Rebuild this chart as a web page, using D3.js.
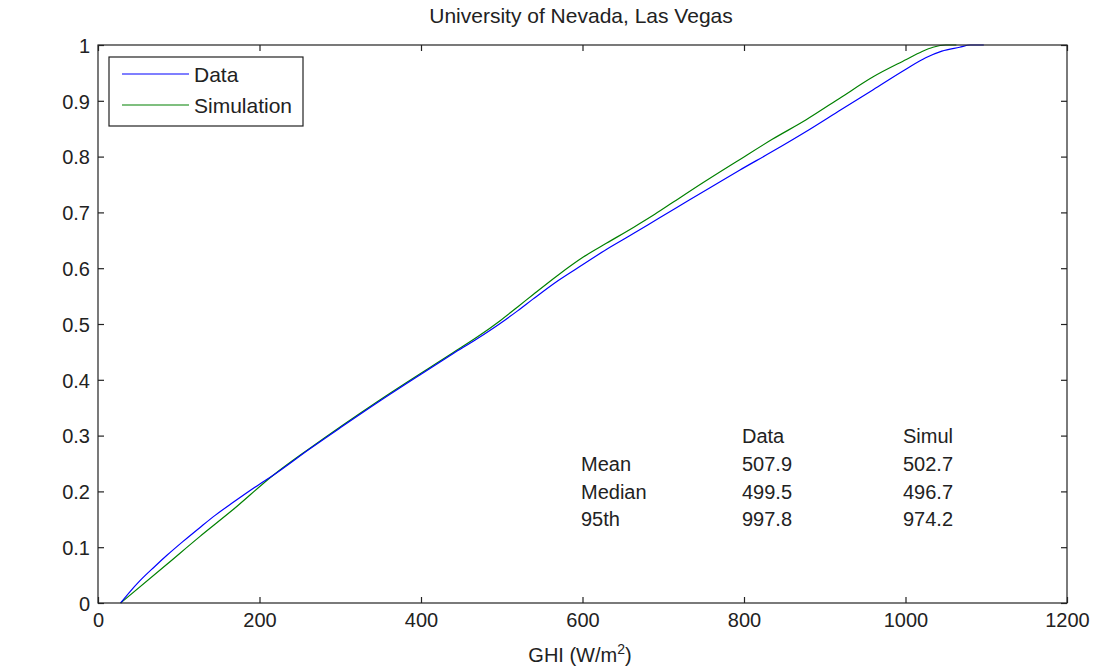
<!DOCTYPE html>
<html><head><meta charset="utf-8">
<script src="https://cdn.jsdelivr.net/npm/d3@7"></script>
<style>body{margin:0;background:#fff}svg{display:block}text{font-family:"Liberation Sans",Arial,sans-serif;fill:#222}</style>
</head><body><svg id="c" width="1093" height="671"></svg>
<script>
const title = "University of Nevada, Las Vegas";
const xTicks = [0,200,400,600,800,1000,1200];
const yTicks = [0,0.1,0.2,0.3,0.4,0.5,0.6,0.7,0.8,0.9,1];
const dataX = [28,40,52,70,85,105,126,145,167,200,217,262,300,349,400,440,470,498,520,539,570,601,630,663,695,724,760,795,835,877,920,960,1001,1025,1045,1067,1080,1097];
const dataY = [0,0.021,0.040,0.065,0.085,0.110,0.135,0.157,0.180,0.213,0.229,0.276,0.314,0.362,0.410,0.447,0.474,0.501,0.524,0.545,0.578,0.607,0.634,0.662,0.690,0.715,0.746,0.776,0.809,0.845,0.884,0.920,0.957,0.977,0.989,0.996,1,1];
const simX = [28,85,126,167,217,262,349,440,470,498,520,539,570,601,630,663,690,712,750,795,835,877,920,960,1001,1020,1034,1050,1063];
const simY = [0,0.069,0.119,0.167,0.229,0.277,0.364,0.449,0.477,0.506,0.531,0.553,0.588,0.620,0.645,0.673,0.697,0.718,0.754,0.795,0.831,0.866,0.906,0.943,0.974,0.988,0.996,1,1];
const seriesNames = ["Data","Simulation"];
const statRows = ["Mean","Median","95th"];
const statData = ["507.9","499.5","997.8"];
const statSim = ["502.7","496.7","974.2"];

const svg = d3.select("#c");
const L=98,R=1067,T=45,B=603;
const x = d3.scaleLinear().domain([0,1200]).range([L,R]);
const y = d3.scaleLinear().domain([0,1]).range([B,T]);
const fs = 20;

const g = svg.append("g");
const line = d3.line().x(d=>x(d[0])).y(d=>y(d[1])).curve(d3.curveMonotoneX);
g.append("path").datum(simX.map((v,i)=>[v,simY[i]])).attr("d",line).attr("fill","none").attr("stroke","#008000").attr("stroke-width",1.2);
g.append("path").datum(dataX.map((v,i)=>[v,dataY[i]])).attr("d",line).attr("fill","none").attr("stroke","#0000ff").attr("stroke-width",1.2);

svg.append("rect").attr("x",L).attr("y",T).attr("width",R-L).attr("height",B-T).attr("fill","none").attr("stroke","#222").attr("stroke-width",1.2);
const tl=6;
const axB = svg.append("g").attr("transform",`translate(0,${B})`).call(d3.axisBottom(x).tickValues(xTicks).tickSize(-tl).tickPadding(10).tickFormat(d3.format("d")));
const axT = svg.append("g").attr("transform",`translate(0,${T})`).call(d3.axisTop(x).tickValues(xTicks).tickSize(-tl).tickFormat(""));
const axL = svg.append("g").attr("transform",`translate(${L},0)`).call(d3.axisLeft(y).tickValues(yTicks).tickSize(-tl).tickPadding(8).tickFormat(d=>d===0||d===1?d3.format("d")(d):d3.format(".1f")(d)));
const axR = svg.append("g").attr("transform",`translate(${R},0)`).call(d3.axisRight(y).tickValues(yTicks).tickSize(-tl).tickFormat(""));
[axB,axT,axL,axR].forEach(a=>{a.select(".domain").remove();a.selectAll("line").attr("stroke","#222").attr("stroke-width",1.2);a.selectAll("text").style("font-size",fs+"px").attr("fill","#222").style("font-family","Liberation Sans, Arial, sans-serif");});
axB.selectAll("text").attr("dy","0.71em");
axL.selectAll("text").attr("dy","0.36em");

svg.append("text").attr("x",581).attr("y",23).attr("text-anchor","middle").style("font-size","21px").text(title);
const xl = svg.append("text").attr("x",580).attr("y",662).attr("text-anchor","middle").style("font-size",fs+"px");
xl.append("tspan").text("GHI (W/m");
xl.append("tspan").attr("dy",-8).style("font-size","14px").text("2");
xl.append("tspan").attr("dy",8).text(")");

svg.append("rect").attr("x",109).attr("y",57).attr("width",194).attr("height",69).attr("fill","#fff").attr("stroke","#222").attr("stroke-width",1.2);
const lc = ["#0000ff","#008000"];
seriesNames.forEach((n,i)=>{
  const yy = 74 + i*31;
  svg.append("line").attr("x1",122).attr("x2",189).attr("y1",yy).attr("y2",yy).attr("stroke",lc[i]).attr("stroke-width",1.2);
  svg.append("text").attr("x",194).attr("y",yy).attr("dy","0.36em").style("font-size","21px").text(n);
});

svg.append("text").attr("x",742).attr("y",436).attr("dy","0.36em").style("font-size",fs+"px").text("Data");
svg.append("text").attr("x",903).attr("y",436).attr("dy","0.36em").style("font-size",fs+"px").text("Simul");
statRows.forEach((r,i)=>{
  const yy = 464 + i*27.6;
  svg.append("text").attr("x",581).attr("y",yy).attr("dy","0.36em").style("font-size",fs+"px").text(r);
  svg.append("text").attr("x",742).attr("y",yy).attr("dy","0.36em").style("font-size",fs+"px").text(statData[i]);
  svg.append("text").attr("x",903).attr("y",yy).attr("dy","0.36em").style("font-size",fs+"px").text(statSim[i]);
});
</script></body></html>
